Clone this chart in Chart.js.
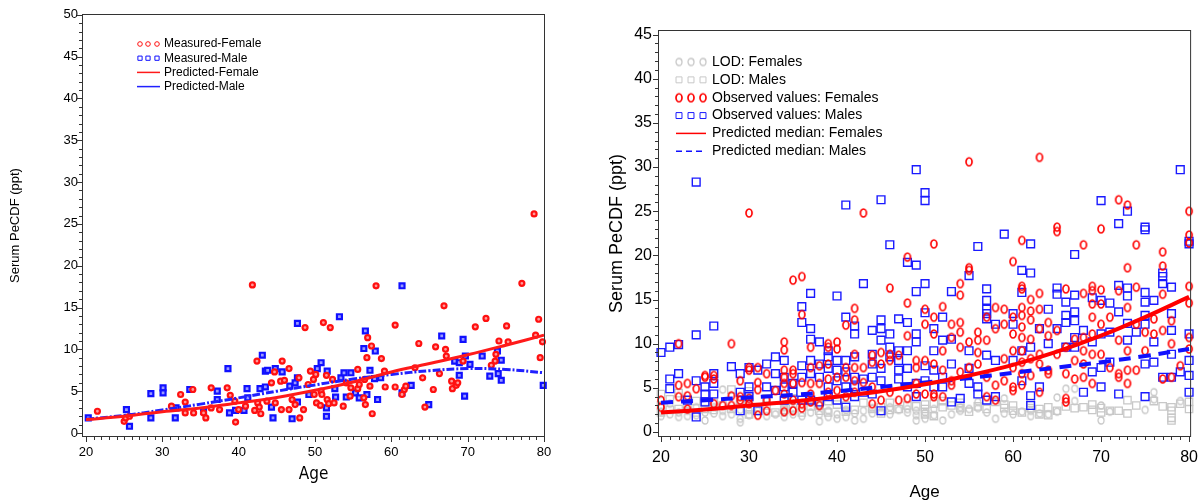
<!DOCTYPE html>
<html>
<head>
<meta charset="utf-8">
<script src="https://cdn.jsdelivr.net/npm/chart.js@4.4.1/dist/chart.umd.min.js"></script>
<style>
html, body { margin: 0; padding: 0; background: #fff; }
#left { position: absolute; left: 0; top: 0; width: 560px; height: 501px; }
#right { position: absolute; left: 600px; top: 0; width: 598px; height: 501px; }
</style>
</head>
<body>
<div id="left"><canvas id="leftChart" width="560" height="501"></canvas></div>
<div id="right"><canvas id="rightChart" width="598" height="501"></canvas></div>
<script>
// ---- data: left panel (age, serum PeCDF) ----
const leftFemaleMeasured = [[21.5,2.6],[25,1.4],[25.2,1.8],[25.7,2],[31.2,3.2],[32.4,4.6],[33,3.7],[33,2.4],[34,5.2],[34.1,2.4],
  [35.4,2.4],[35.7,1.8],[36.4,3],[36.4,5.4],[37.5,2.8],[38.5,5.4],[38.9,4.5],[39.5,3.8],[39.6,1.3],[40,2.8],
  [40.9,3.2],[41.8,17.7],[42.1,2.7],[42.4,8.6],[42.5,3.6],[42.7,3.1],[42.9,2.3],[43.7,3.8],[44.3,6],[44.7,7.3],
  [44.8,3.6],[45.5,6.2],[45.6,2.8],[45.7,8.6],[46,6.3],[46.6,7.7],[46.6,2.8],[47,4],[47.4,3.4],[47.9,6.6],
  [48,1.8],[48.5,2.8],[48.7,12.6],[49.1,5.8],[49.4,7.4],[49.8,6.4],[49.9,4.6],[50.1,7],[50.2,3.6],[50.7,3.3],
  [50.8,5],[50.9,4.6],[51.1,13.2],[51.5,6.9],[51.6,4],[51.8,3.5],[52,12.6],[52.3,6.4],[52.5,3.6],[53.7,3.2],
  [54.1,6],[54.6,4.4],[54.7,5.4],[55.6,7.6],[55.6,5.3],[55.8,5.8],[56.4,4.2],[56.5,6.4],[56.6,3.4],[56.8,9],
  [56.9,11.4],[57.2,5.6],[57.4,10.4],[57.5,2.3],[58,17.6],[58.7,8.9],[59.1,7.4],[59.2,5.5],[60.5,12.9],[60.5,5.5],
  [61.4,4.6],[61.7,5.2],[61.9,5.6],[63.1,7.8],[63.6,10.7],[64.1,6.6],[64.4,3.1],[65.5,5.2],[65.8,10.3],[66.3,7.1],
  [66.9,15.2],[67.1,10],[67.2,9.2],[67.9,6.2],[68,5.3],[68.5,5.7],[68.7,6],[69.4,8.6],[71,12.7],[72.4,13.7],
  [73.1,8.1],[73.6,8.6],[73.7,9.4],[74.1,11],[75.1,12.8],[75.3,10.9],[77.1,17.9],[78.7,26.2],[78.9,11.7],[79.3,13.6],
  [79.5,9],[79.8,10.9]];
const leftMaleMeasured = [[20.3,1.8],[25.3,2.8],[25.7,0.8],[28.5,4.7],[28.5,1.8],[30.1,5.4],[30.1,4.8],[31.7,1.8],[31.8,3],[33.6,5.2],
  [35.4,2.6],[37.2,5],[37.2,4],[38.6,7.7],[38.8,2.4],[39.6,2.7],[40.7,2.7],[41.1,5.3],[41.2,4.2],[42.8,5.3],
  [43.1,9.3],[43.5,7.4],[43.5,5.5],[43.8,7.5],[44.3,3.1],[44.5,1.8],[44.8,7.7],[45.7,7.3],[46.7,5.6],[47,1.7],
  [47.4,6],[47.7,13.1],[47.7,6.6],[47.7,3.7],[49.2,4.6],[50.3,7.7],[50.8,8.4],[51.5,3],[51.5,2],[51.6,7.4],
  [52.6,5.3],[52.7,4.3],[53.2,13.9],[53.4,6.6],[53.8,7.2],[54.1,4.3],[54.7,7.2],[55.3,4.8],[55.8,4.2],[56.4,10.1],
  [56.6,12.2],[56.8,4.6],[57.2,7.5],[57.8,6.5],[57.9,9.8],[58.2,4],[58.6,6.6],[61.4,17.6],[61.4,4.8],[62.6,5.7],
  [64.9,3.4],[66.6,11.6],[68.3,8.6],[68.9,8.4],[68.9,6.9],[69.4,11.2],[69.6,4.4],[69.7,9.2],[70.3,8.2],[71.9,9.2],
  [72.9,6.8],[73.9,9.8],[74,7.1],[74.4,8.7],[74.4,6.3],[79.9,5.7]];
const leftFemalePredicted = [[20,1.6],[25,2],[30,2.55],[35,3],[40,3.6],[45,4.25],[50,5.1],[55,6.1],[60,7.3],[65,8.3],[70,9.35],[75,10.5],[80,11.7]];
const leftMalePredicted = [[20,1.65],[25,2.1],[30,2.75],[35,3.45],[40,4.2],[45,5],[50,5.75],[55,6.45],[60,7],[65,7.45],[70,7.7],[75,7.6],[80,7.2]];

// ---- data: right panel, grouped as [age, [values...]] ----
const rightLodFemale = [[20,[1.8,2.3]],[21,[2,3.2]],[22,[1.7,2.2]],[23,[1.8,2.4]],[24,[1.9,2.8]],[25,[1.3,2.2]],[26,[2.1,2.8]],
  [27,[1.8,2.4,4.8]],[28,[2]],[29,[1.1,1.5,2.5]],[30,[1.9,2.5]],[31,[2.4]],[32,[1.8]],[33,[2]],[34,[1.7,2.2,2.8]],
  [35,[2,2.5]],[36,[1.8]],[37,[2.2]],[38,[1.2,2]],[39,[1.7,2.4]],[40,[1.5,2]],[41,[1.7,2.5]],[42,[1.3,2.1]],
  [43,[1.5,2.4]],[44,[2.1,2.7]],[45,[2.3]],[46,[2,2.8]],[47,[2.5]],[48,[2.2,2.6]],[49,[1.3,1.9,2.4]],[50,[1.5,2.2]],
  [51,[1.9,2.6]],[52,[1.3]],[53,[2]],[54,[2.4,2.8]],[55,[2.6]],[56,[2.7,3.4]],[57,[2.2]],[58,[1.5]],[59,[2.1,3.8]],
  [60,[2]],[61,[2.3]],[62,[1.8,2.4]],[63,[2.1]],[64,[2]],[65,[2.3,3.9]],[66,[4.9]],[67,[3.5,4.9]],[70,[1.3,3]],
  [71,[2.3]],[75,[2.5]],[76,[4.5,3.7]],[79,[3.5]]];
const rightLodMale = [[20,[2.2,3,4.3]],[21,[2.5,3.7]],[22,[2.6,4.4]],[23,[3]],[24,[2.2,3.5]],[25,[2.6,3.3]],[26,[2.5,3.3]],
  [27,[3]],[28,[4.8,2.6]],[29,[3.2,3.6]],[30,[2,3.3,4.6]],[31,[2.8]],[32,[3,3.8]],[33,[2.2]],[34,[3.5,2.5]],
  [35,[2.7,3.8]],[36,[2.2]],[37,[2.9]],[38,[3,2.4]],[39,[2.2,3.5]],[40,[3.1]],[41,[2.3,3]],[42,[2.5]],[43,[3.3]],
  [44,[2.6]],[45,[2.1,2.8]],[46,[3.3,2.5]],[47,[2.6]],[48,[3]],[49,[2.9]],[50,[2.6,3.1,2]],[51,[1.8,3.2]],
  [52,[2.8,3.5]],[53,[3]],[54,[2.7,3.3]],[55,[2.3]],[56,[2.9]],[57,[2.6]],[58,[3.4]],[59,[2.7,3.1]],[60,[2.4,3]],
  [61,[2.2]],[62,[2.7,3.3]],[63,[2,2.6]],[64,[1.9,2.8]],[65,[2.4]],[66,[2.9]],[67,[2.7]],[68,[2.8]],[69,[2.5,3.1]],
  [70,[2.2,2.7]],[71,[2.4]],[72,[2.4]],[73,[2.1,3.6]],[74,[3]],[76,[3.5]],[77,[2.9]],[78,[1.3,1.6,2.4,2.8]],
  [79,[3.2]],[80,[2.6,3.4]]];
const rightObsFemale = [[20,[3.6,2.8]],[22,[10,5.3,4]],[23,[5.5,4.1,2.6]],[24,[4.9]],[25,[6.4,6.2]],[26,[6.4,6,3.2]],
  [27,[3]],[28,[10,4.1,3]],[29,[5.8,4,3.6]],[30,[24.8,7.3,7,3.8,3.2]],[31,[7.3,5.6,4.8,1.9]],[32,[6.6,3.6,2.4]],
  [33,[4.7]],[34,[10.2,9.3,7,6.2,5.5,4.3,2.3]],[35,[17.2,7,6.6,5.5,3.6,2.4]],[36,[17.6,13.3,5.6,3.2,2.7]],
  [37,[9.6,7.3,5.5,4.3,3.4]],[38,[7.5,5.5,3]],[39,[10,9.6,7.7,6,4.5]],[40,[10.2,9.4,6.2,4.7]],[41,[12.1,7.3,6.2,4]],
  [42,[14,12.7,8.8,7.3,5.8,4.5]],[43,[24.8,7.3,5.6]],[44,[8.7,7.9,5.1,3.2]],[45,[9,7.7,3.6]],[46,[16.3,8.8,8.1,4.5]],
  [47,[8.7,3.6]],[48,[19.8,14.6,10.9,3.8]],[49,[8.1,7.3,5.5,4.3]],[50,[13.9,12.2,8.1,4.3]],
  [51,[21.3,13,11.1,7.7,4.3,4]],[52,[14.2,9.2,7,4]],[53,[12.2,10.7,5.8,5.3]],[54,[16.8,15.5,12.4,11.3,9.6,6.8]],
  [55,[30.6,18.6,18.3,10.2,7.3]],[56,[11.3,10.4,9,7.7]],[57,[13,10.4,6.2,4]],[58,[14.1,11.7,5.3,3.6]],
  [59,[13.9,12.2,8.3,5.8]],[60,[19.3,13,11.1,9.2,7.3,5.1,4.7]],[61,[21.7,16.5,16.2,14.1,13.2,11.9,10.7,9.2,7.9,6.6,5.3]],
  [62,[15,13.7,12.7,10.5,8.3,6.4]],[63,[31.1,15.7,13.9,11.7,8.8,7.7,4.5]],[64,[12.4,10.9,7,6.6]],
  [65,[23.2,22.7,11.5,8.8]],[66,[16.2,9.6,6.6,3.8,3.4]],[67,[10.5,8.1,6]],[68,[21.2,15.7,10.7,9.2,7.7,6.2]],
  [69,[16.5,16,14.5,13,11.1,8.8,5.5]],[70,[23,16.1,14.5,12.2,8.8]],[71,[13,7.3]],[72,[26.3,16,10.4,6.6,6.2]],
  [73,[25.7,18.6,14.1,9.2,7,5.5]],[74,[21.2,16.4,12.2,7]],[75,[11.3,9.2]],[76,[12.8,11.1]],
  [77,[20.4,18.8,15.6,11.5,6]],[78,[12.6,10,6.2]],[79,[7.5]],[80,[25,22.3,21.4,16.5,14.6,10.7,9.4]]];
const rightObsMale = [[20,[9]],[21,[9.6,6,4.9]],[22,[9.9,6.6]],[23,[3.6]],[24,[28.3,11,5.8,1.7]],[25,[5.1,4.3,3.4]],
  [26,[12,6.6,5.5,4.3]],[28,[7.4]],[29,[6.6,4.5,2.4]],[30,[7.3,5.1,4]],[31,[7,2.4]],[32,[7.7,5.1]],[33,[8.5,6.6,4.7]],
  [34,[8.1,6.2,5.1,3.6]],[35,[5.5,4.5]],[36,[14.2,12.4,7.5,6.2,3.6]],[37,[15.7,11.7,10.5,8.1,6.6,3.6]],
  [38,[10.2,7.7,6.2,3.4]],[39,[9.2,8.5,7.2,5.1,4]],[40,[15.4,8.1,7,5.8,3.6]],[41,[25.7,13,8.1,6.8,5.1,2.8]],
  [42,[12,11.1,8.5,6.2,5.1,4]],[43,[16.8,6,4.5]],[44,[11.5,8.8,7.7,6.2,4.3]],[45,[26.3,12.7,11.7,10.4,7.2,5.8,2.4]],
  [46,[21.2,11.1,9.6,8.5]],[47,[12.8,9.2,8.1,7,6]],[48,[19.2,12.4,9.2,7.2,5.1]],[49,[29.7,18.9,15.9,11.1,10.2,5.5,4]],
  [50,[27.1,26.2,16.8,13.5,7.5,5.8]],[51,[11.7,9.2,7,5.1]],[52,[13,10.4,6.2,5.1]],[53,[15.9,10.5,7.7,3.4]],
  [54,[3.8]],[55,[17.7,9.2,7.2,5.5]],[56,[21,5.1,4.3]],[57,[16.2,14.9,13.9,13.4,12.8,8.7,3.6]],[58,[12.2,8.1,4]],
  [59,[22.4]],[60,[13.4,12.2,8.1]],[61,[18.3,15.8,9.2,5.8]],[62,[21.3,18,9.6,4.1,3]],[63,[11.7,5.1]],[64,[13.9,10]],
  [65,[16.3,15.6,11.7]],[66,[14.7,13.2,12.4,9.6]],[67,[20.1,15.5,13.6,12.6,10.7,9.6]],[68,[11.5,4.5]],
  [69,[15.2,10.2,6.8]],[70,[26.2,14.9,11.1,7.3,5.1]],[71,[14.6,11.3,7.9]],[72,[23.6,16.6,13.6,4.3]],
  [73,[25,16.3,15.4,12.3,10.4]],[74,[11.3]],[75,[23.2,22.9,15.8,14.7,13.2,12.2,7.7,4]],[76,[14.9,10.2,7.9]],
  [77,[18,17.6,16.8,6.2]],[78,[16.4,13.4,11.5,8.8,6.2]],[79,[29.7,6.8]],[80,[21.6,21.3,11.1,8.1,6.4,4.5]]];
const rightFemalePredicted = [[20,2.2],[25,2.55],[30,3],[35,3.45],[40,4],[45,4.6],[50,5.4],[55,6.4],[60,7.6],[65,9.1],[70,10.9],[75,13],[80,15.3]];
const rightMalePredicted = [[20,3.3],[25,3.6],[30,3.9],[35,4.2],[40,4.6],[45,5.1],[50,5.6],[55,6.1],[60,6.7],[65,7.3],[70,7.9],[75,8.6],[80,9.4]];

// ---- ticks ----
const ageTicks = [20, 30, 40, 50, 60, 70, 80];
const leftValueTicks = [0, 5, 10, 15, 20, 25, 30, 35, 40, 45, 50];
const rightValueTicks = [0, 5, 10, 15, 20, 25, 30, 35, 40, 45];

const toXY = pairs => pairs.map(([x, y]) => ({x, y}));
const groupToXY = groups => groups.flatMap(([x, vals]) => vals.map(y => ({x, y})));

Chart.defaults.font.family = "'Liberation Sans', Arial, sans-serif";
Chart.defaults.color = '#000';

// small oval marker (the SAS circles come out slightly tall)
function ovalMarker(w, h, color, lw) {
  const c = document.createElement('canvas');
  c.width = w + 4; c.height = h + 4;
  const g = c.getContext('2d');
  g.strokeStyle = color; g.lineWidth = lw;
  g.beginPath();
  g.ellipse(c.width / 2, c.height / 2, w / 2, h / 2, 0, 0, Math.PI * 2);
  g.stroke();
  return c;
}
const redOval = ovalMarker(6, 8, '#ff0000', 1.7);
const greyOval = ovalMarker(6, 7, '#c8c8c8', 1.3);

// box around plot + minor/major tick marks
const framePlugin = {
  id: 'frame',
  afterDatasetsDraw(chart, args, opts) {
    const {ctx, chartArea: a, scales: {x, y}} = chart;
    ctx.save();
    ctx.strokeStyle = '#333';
    ctx.lineWidth = 1;
    ctx.strokeRect(a.left + 0.5, a.top + 0.5, a.right - a.left - 1, a.bottom - a.top - 1);
    ctx.beginPath();
    for (let v = Math.ceil(x.min); v <= x.max; v++) {
      const px = Math.round(x.getPixelForValue(v)) + 0.5;
      const len = v % 10 === 0 ? 5 : 3;
      ctx.moveTo(px, a.bottom); ctx.lineTo(px, a.bottom + len);
    }
    for (let v = Math.ceil(y.min); v <= y.max; v++) {
      const py = Math.round(y.getPixelForValue(v)) + 0.5;
      const len = v % 5 === 0 ? 5 : 3;
      ctx.moveTo(a.left, py); ctx.lineTo(a.left - len, py);
    }
    ctx.stroke();
    ctx.restore();
  }
};

// legend drawn inside the plot, top-left
const insideLegend = {
  id: 'insideLegend',
  afterDraw(chart, args, o) {
    const ctx = chart.ctx;
    ctx.save();
    ctx.font = o.font;
    ctx.textBaseline = 'middle';
    o.items.forEach((idx, i) => {
      const ds = chart.data.datasets[idx];
      const y = o.y + i * o.dy;
      if (ds.showLine) {
        ctx.save();
        ctx.strokeStyle = ds.borderColor;
        ctx.lineWidth = 1.5;
        ctx.setLineDash(ds.legendDash || []);
        ctx.beginPath();
        ctx.moveTo(o.lineX0, y); ctx.lineTo(o.lineX1, y);
        ctx.stroke();
        ctx.restore();
      } else {
        ctx.strokeStyle = ds.borderColor;
        ctx.fillStyle = ds.legendFill || 'rgba(255,255,255,0)';
        o.markXs.forEach(mx => {
          Chart.helpers.drawPoint(ctx, {
            pointStyle: ds.pointStyle,
            radius: ds.pointStyle === 'rect' ? o.rectR : o.circleR,
            borderWidth: ds.borderWidth,
            rotation: 0
          }, mx, y);
        });
      }
      ctx.fillStyle = '#000';
      ctx.fillText(ds.label, o.textX, y);
    });
    ctx.restore();
  }
};

const fixedScale = (w, h) => s => {
  if (w) s.width = w;
  if (h) s.height = h;
  s.paddingLeft = 0; s.paddingRight = 0;
};

// ---------- left chart ----------
new Chart(document.getElementById('leftChart').getContext('2d'), {
  type: 'scatter',
  data: {
    datasets: [
      {label: 'Measured-Female', data: toXY(leftFemaleMeasured), pointStyle: 'circle', pointRadius: 2.5,
        borderColor: '#ff1010', backgroundColor: '#ff9a9a', borderWidth: 2.2, order: 1, clip: 8},
      {label: 'Measured-Male', data: toXY(leftMaleMeasured), pointStyle: 'rect', pointRadius: 3.5,
        borderColor: '#1010ff', backgroundColor: '#9a9aff', borderWidth: 2.2, order: 2, clip: 8},
      {label: 'Predicted-Female', data: toXY(leftFemalePredicted), showLine: true, pointRadius: 0,
        borderColor: '#ff1a1a', borderWidth: 3, tension: 0.4, order: 0},
      {label: 'Predicted-Male', data: toXY(leftMalePredicted), showLine: true, pointRadius: 0,
        borderColor: '#2020ff', borderWidth: 3, borderDash: [8, 2, 2, 2], tension: 0.4, order: 0}
    ]
  },
  options: {
    responsive: false,
    animation: false,
    events: [],
    layout: {padding: {left: 0, top: 14, right: 15, bottom: 0}},
    plugins: {
      legend: {display: false},
      tooltip: {enabled: false},
      insideLegend: {items: [0, 1, 2, 3], font: "12px 'Liberation Sans', Arial, sans-serif",
        y: 44, dy: 14.2, markXs: [140, 148, 157], circleR: 2.3, rectR: 3, lineX0: 137, lineX1: 160, textX: 164}
    },
    scales: {
      x: {
        type: 'linear', min: 19.48, max: 80.13,
        afterBuildTicks: s => { s.ticks = ageTicks.map(v => ({value: v})); },
        afterFit: fixedScale(0, 64),
        grid: {display: false, drawTicks: false}, border: {display: false},
        ticks: {padding: 8, font: {size: 13}, maxRotation: 0, autoSkip: false},
        title: {display: true, text: 'Age', font: {family: "'DejaVu Sans Condensed', 'Liberation Sans Narrow', sans-serif", size: 17},
          padding: {top: 0, bottom: 16}}
      },
      y: {
        type: 'linear', min: -0.48, max: 50.1,
        afterBuildTicks: s => { s.ticks = leftValueTicks.map(v => ({value: v})); },
        afterFit: fixedScale(82, 0),
        grid: {display: false, drawTicks: false}, border: {display: false},
        ticks: {padding: 4, font: {size: 13}},
        title: {display: true, text: 'Serum PeCDF (ppt)', font: {size: 13}, padding: {top: 7.6, bottom: 0}}
      }
    }
  },
  plugins: [framePlugin, insideLegend]
});

// ---------- right chart ----------
new Chart(document.getElementById('rightChart').getContext('2d'), {
  type: 'scatter',
  data: {
    datasets: [
      {label: 'LOD: Females', data: groupToXY(rightLodFemale), pointStyle: greyOval, pointRadius: 3.5,
        borderColor: '#c8c8c8', backgroundColor: 'rgba(255,255,255,0)', borderWidth: 1.3, order: 4, clip: 8},
      {label: 'LOD: Males', data: groupToXY(rightLodMale), pointStyle: 'rect', pointRadius: 5.2,
        borderColor: '#c8c8c8', backgroundColor: 'rgba(255,255,255,0)', borderWidth: 1.3, order: 3, clip: 8},
      {label: 'Observed values: Females', data: groupToXY(rightObsFemale), pointStyle: redOval, pointRadius: 3.6,
        borderColor: '#ff0000', backgroundColor: 'rgba(255,255,255,0)', borderWidth: 1.7, order: 1, clip: 8},
      {label: 'Observed values: Males', data: groupToXY(rightObsMale), pointStyle: 'rect', pointRadius: 5.5,
        borderColor: '#1a1aff', backgroundColor: 'rgba(255,255,255,0)', borderWidth: 1.4, order: 2, clip: 8},
      {label: 'Predicted median: Females', data: toXY(rightFemalePredicted), showLine: true, pointRadius: 0,
        borderColor: '#ff0000', borderWidth: 4, tension: 0.4, order: 0},
      {label: 'Predicted median: Males', data: toXY(rightMalePredicted), showLine: true, pointRadius: 0,
        borderColor: '#1010ff', borderWidth: 4, borderDash: [12, 8], legendDash: [6, 4], tension: 0.4, order: 0}
    ]
  },
  options: {
    responsive: false,
    animation: false,
    events: [],
    layout: {padding: {left: 0, top: 30, right: 6, bottom: 0}},
    plugins: {
      legend: {display: false},
      tooltip: {enabled: false},
      insideLegend: {items: [0, 1, 2, 3, 4, 5], font: "14px 'Liberation Sans', Arial, sans-serif",
        y: 62, dy: 17.85, markXs: [79, 91, 103], circleR: 3, rectR: 4.2, lineX0: 76, lineX1: 106, textX: 112}
    },
    scales: {
      x: {
        type: 'linear', min: 19.66, max: 80.23,
        afterBuildTicks: s => { s.ticks = ageTicks.map(v => ({value: v})); },
        afterFit: fixedScale(0, 64),
        grid: {display: false, drawTicks: false}, border: {display: false},
        ticks: {padding: 11, font: {size: 16}, maxRotation: 0, autoSkip: false},
        title: {display: true, text: 'Age', font: {size: 17, lineHeight: 1}, padding: {top: 0, bottom: 0}}
      },
      y: {
        type: 'linear', min: -0.57, max: 45.52,
        afterBuildTicks: s => { s.ticks = rightValueTicks.map(v => ({value: v})); },
        afterFit: fixedScale(58, 0),
        grid: {display: false, drawTicks: false}, border: {display: false},
        ticks: {padding: 6, font: {size: 16}},
        title: {display: true, text: 'Serum PeCDF (ppt)', font: {size: 18}, padding: {top: 6, bottom: 0}}
      }
    }
  },
  plugins: [framePlugin, insideLegend]
});
</script>
</body>
</html>
